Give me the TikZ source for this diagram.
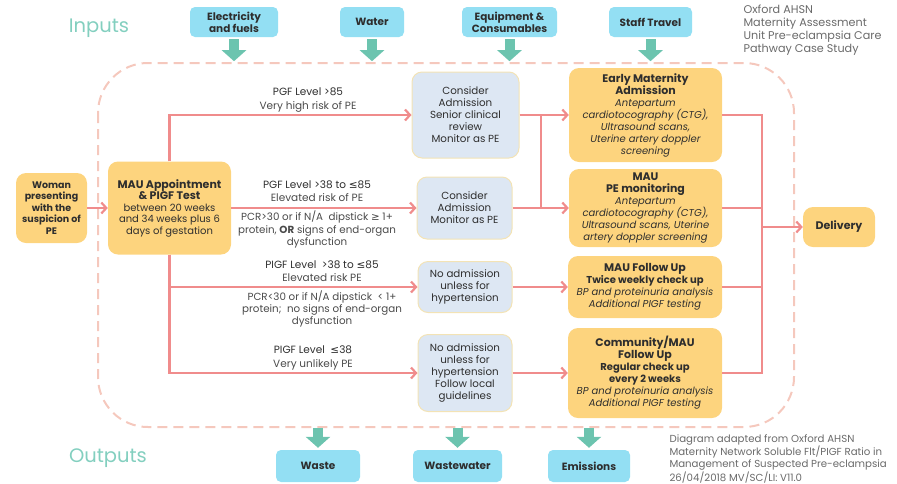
\documentclass[tikz,border=0pt]{standalone}
\usepackage{fontspec}
\setmainfont{Poppins}
\newfontfamily\symfont{DejaVu Sans}
\usetikzlibrary{arrows.meta, positioning}

\definecolor{flowpink}{HTML}{F08C8C}
\definecolor{boxyellow}{HTML}{FDD47E}
\definecolor{boxblue}{HTML}{DDE7F3}
\definecolor{blueedge}{HTML}{F3E3B5}
\definecolor{inputcyan}{HTML}{93DFF3}
\definecolor{arrowteal}{HTML}{6CC4AF}
\definecolor{dashpink}{HTML}{F5C8BD}
\definecolor{headteal}{HTML}{83CFBF}
\definecolor{textgray}{HTML}{2E2E2E}
\definecolor{subgray}{HTML}{4A4A4A}
\definecolor{notegray}{HTML}{6A6A6A}

\newcommand{\lteq}{{\symfont ≤}}
\newcommand{\gteq}{{\symfont ≥}}
\newcommand{\boxtitle}{\fontsize{11}{13.5}\selectfont\bfseries\upshape\color{textgray}}
\newcommand{\boxsub}{\fontsize{10}{12}\selectfont\bfseries\upshape\color{textgray}}
\newcommand{\boxbody}{\fontsize{10}{11.5}\selectfont}
\newcommand{\boxnote}{\fontsize{10}{12}\selectfont\itshape\color{subgray}}
\newcommand{\condsub}{\color{subgray}}

\begin{document}
\begin{tikzpicture}[x=1pt, y=-1pt, >={Straight Barb[length=5pt,width=11pt]},
	yellowbox/.style={fill=boxyellow, rounded corners=10pt, align=center, inner sep=1pt, text=textgray},
	bluebox/.style={fill=boxblue, draw=blueedge, line width=1pt, rounded corners=10pt, align=center, inner sep=1pt, text=textgray, font=\fontsize{10.3}{12}\selectfont},
	inputbox/.style={fill=inputcyan, rounded corners=5pt, align=center, inner sep=1pt, text=textgray, font=\bfseries\fontsize{10.5}{12}\selectfont},
	flow/.style={draw=flowpink, line width=2.2pt},
	fatarrow/.style={draw=arrowteal, line width=10pt, -{Triangle[length=11pt,width=24pt]}},
	cond/.style={align=center, text=textgray, font=\fontsize{10.5}{13.5}\selectfont},
	condnote/.style={align=center, text=subgray, font=\fontsize{10.3}{12.3}\selectfont},
	heading/.style={text=headteal, font=\fontsize{19.5}{22}\selectfont}]
	
	\useasboundingbox (0,0) rectangle (897,483);
	
	% unit boundary
	\draw [dashpink, line width=2pt, dash pattern=on 10pt off 6pt, rounded corners=50pt] (98,63) rectangle (794,427);
	
	\node (inputs) [heading] at (99,28) {Inputs};
	\node (outputs) [heading] at (108,458) {Outputs};
	
	\node (elec) [inputbox, minimum width=88pt, minimum height=30pt] at (234,22) {Electricity\\and fuels};
	\node (water) [inputbox, minimum width=64pt, minimum height=30pt] at (372,22) {Water};
	\node (equip) [inputbox, minimum width=95pt, minimum height=30pt] at (509.5,22) {Equipment \&\\Consumables};
	\node (staff) [inputbox, minimum width=83pt, minimum height=30pt] at (650.5,22) {Staff Travel};
	
	\node (waste) [inputbox, minimum width=84pt, minimum height=32pt] at (318,466) {Waste};
	\node (wwater) [inputbox, minimum width=89pt, minimum height=32pt] at (457.5,466) {Wastewater};
	\node (emis) [inputbox, minimum width=82pt, minimum height=32pt] at (589,466) {Emissions};
	
	\node (note) [anchor=north west, align=left, text=notegray, font=\fontsize{11.2}{13}\selectfont] at (740,1) {Oxford AHSN\\Maternity Assessment\\Unit Pre-eclampsia Care\\Pathway Case Study};
	\node (source) [anchor=north west, align=left, text=notegray, font=\fontsize{10.2}{12.1}\selectfont] at (666,431) {Diagram adapted from Oxford AHSN\\Maternity Network Soluble Flt/PIGF Ratio in\\Management of Suspected Pre-eclampsia\\26/04/2018 MV/SC/LI: V11.0};
	
	% pathway
	\node (woman) [yellowbox, minimum width=71pt, minimum height=70pt, font=\bfseries\fontsize{9.5}{11.5}\selectfont] at (51.5,208) {Woman\\presenting\\with the\\suspicion of\\PE};
	\node (mau) [yellowbox, minimum width=123pt, minimum height=93pt, font=\boxbody] at (169.5,208) {\boxtitle MAU Appointment\\\boxtitle \& PIGF Test\\between 20 weeks\\and 34 weeks plus 6\\days of gestation};
	
	\node (con1) [bluebox, minimum width=107pt, minimum height=86pt] at (465.5,115) {Consider\\Admission\\Senior clinical\\review\\Monitor as PE};
	\node (con2) [bluebox, minimum width=95pt, minimum height=62pt] at (464.5,208) {Consider\\Admission\\Monitor as PE};
	\node (noad1) [bluebox, minimum width=94pt, minimum height=51pt] at (465,287) {No admission\\unless for\\hypertension};
	\node (noad2) [bluebox, minimum width=94pt, minimum height=77pt] at (465,373) {No admission\\unless for\\hypertension\\Follow local\\guidelines};
	
	\node (early) [yellowbox, minimum width=153pt, minimum height=94pt, font=\boxnote] at (645.5,115) {\boxtitle Early Maternity\\\boxtitle Admission\\Antepartum\\cardiotocography (CTG),\\Ultrasound scans,\\Uterine artery doppler\\screening};
	\node (maupe) [yellowbox, minimum width=153pt, minimum height=78pt, font=\boxnote] at (645.5,208) {\boxtitle MAU\\\boxtitle PE monitoring\\Antepartum\\cardiotocography (CTG),\\Ultrasound scans, Uterine\\artery doppler screening};
	\node (maufu) [yellowbox, minimum width=154pt, minimum height=62pt, font=\boxnote] at (645,287) {\boxtitle MAU Follow Up\\\boxsub Twice weekly check up\\BP and proteinuria analysis\\Additional PIGF testing};
	\node (comm) [yellowbox, minimum width=154pt, minimum height=90pt, font=\boxnote] at (645,373) {\boxtitle Community/MAU\\\boxtitle Follow Up\\\boxsub Regular check up\\\boxsub every 2 weeks\\BP and proteinuria analysis\\Additional PIGF testing};
	\node (delivery) [yellowbox, minimum width=72pt, minimum height=40pt, font=\bfseries\fontsize{11}{13}\selectfont] at (839,227) {Delivery};
	
	% conditions
	\node (c1) [cond] at (308,100) {PGF Level >85\\\condsub Very high risk of PE};
	\node (c2) [cond] at (317,191) {PGF Level >38 to \lteq85\\\condsub Elevated risk of PE};
	\node (c2b) [condnote] at (317,229.5) {PCR>30 or if N/A\ \ dipstick \gteq\ 1+\\protein, \textbf{OR} signs of end-organ\\dysfunction};
	\node (c3) [cond] at (322,271) {PIGF Level\ \ >38 to \lteq85\\\condsub Elevated risk PE};
	\node (c3b) [condnote] at (322,309) {PCR<30 or if N/A dipstick\ \ < 1+\\protein;\ \ no signs of end-organ\\dysfunction};
	\node (c4) [cond] at (313,358) {PIGF Level\ \ \lteq38\\\condsub Very unlikely PE};
	
	\coordinate (jtop) at (541,115);
	\coordinate (jbot) at (541,208);
	\coordinate (collect) at (762,227);
	
	\draw [flow, ->] (woman) -- (mau);
	\draw [flow, ->] (mau.north) |- (con1);
	\draw [flow, ->] (mau) -- (con2);
	\draw [flow, ->] (mau.south) |- (noad1);
	\draw [flow, ->] (mau.south) |- (noad2);
	\draw [flow, ->] (con1) -- (early);
	\draw [flow, ->] (con2) -- (maupe);
	\draw [flow] (jtop) -- (jbot);
	\draw [flow, ->] (noad1) -- (maufu);
	\draw [flow, ->] (noad2) -- (comm);
	\draw [flow] (early) -| (collect);
	\draw [flow] (comm) -| (collect);
	\draw [flow] (maupe) -- (maupe -| collect);
	\draw [flow] (maufu) -- (maufu -| collect);
	\draw [flow, ->] (collect) -- (delivery);
	
	% inputs and outputs
	\foreach \src in {elec, water, equip, staff}
		\draw [fatarrow, shorten <=2pt] (\src.south) -- ++(0,24);
	\foreach \dst in {waste, wwater, emis}
		\draw [fatarrow, shorten >=2pt] (\dst.north) ++(0,-22) -- (\dst.north);
	
\end{tikzpicture}
\end{document}
